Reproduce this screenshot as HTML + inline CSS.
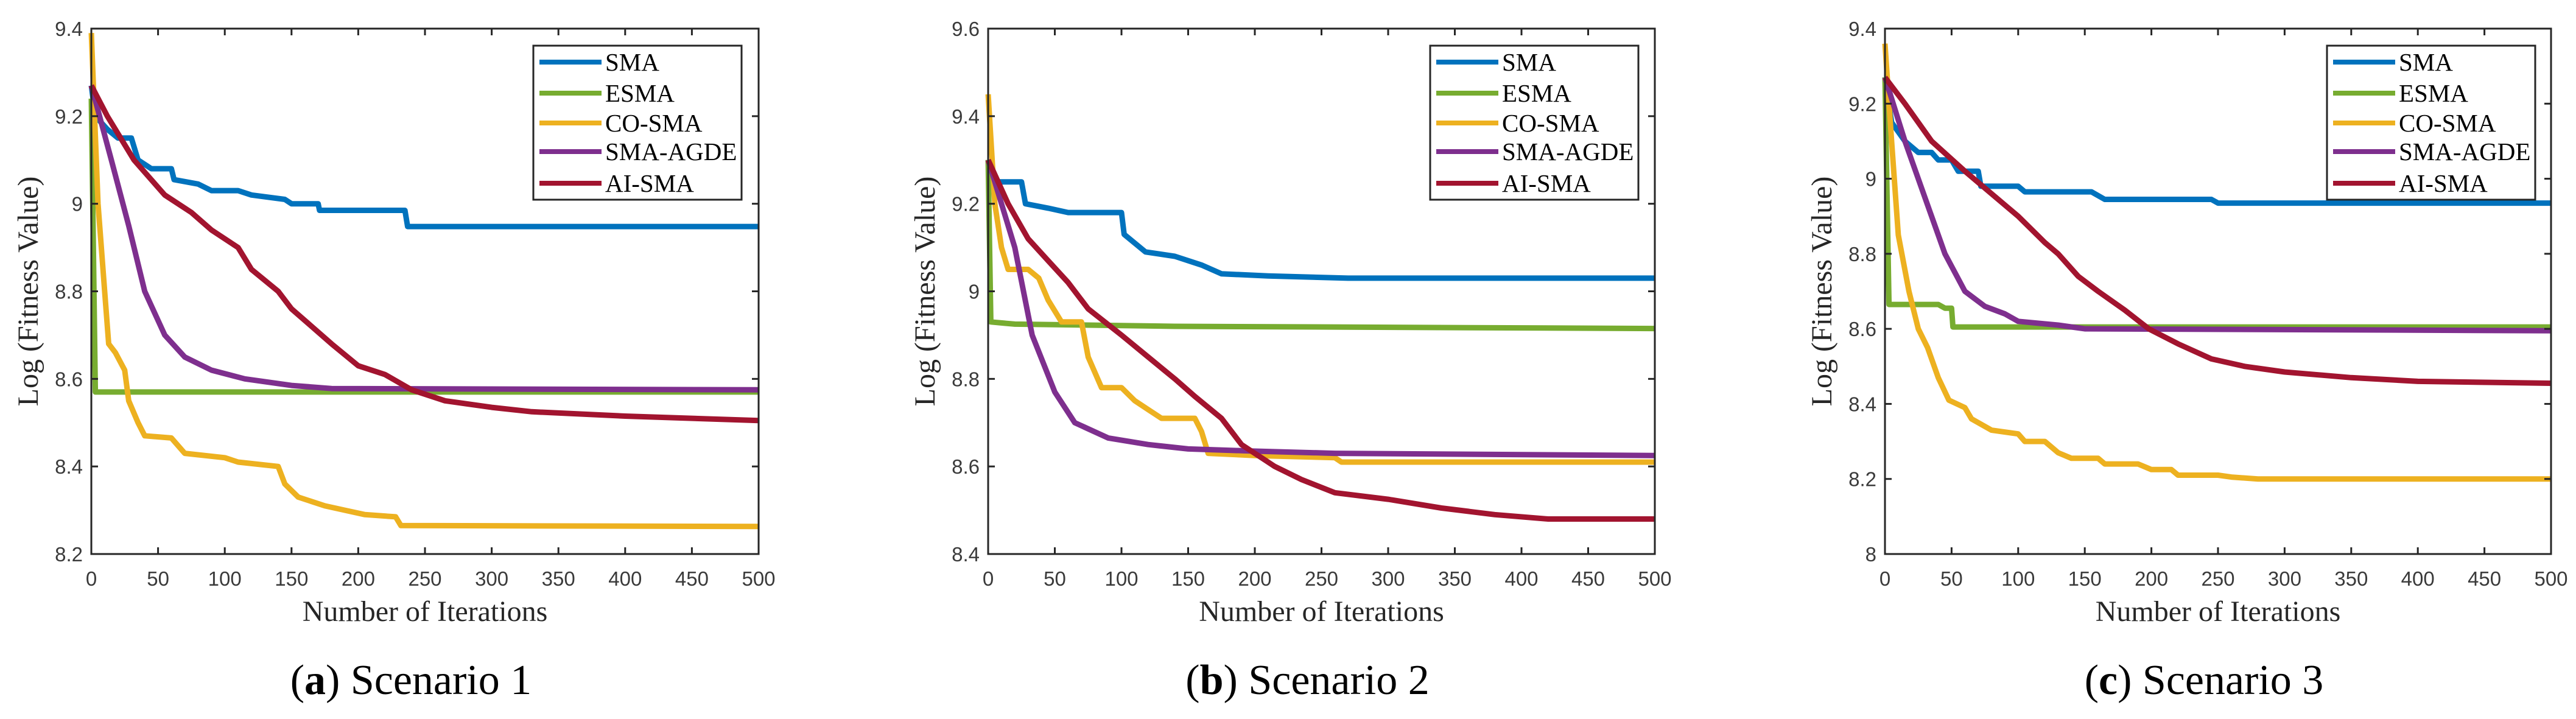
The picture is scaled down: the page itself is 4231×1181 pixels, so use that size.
<!DOCTYPE html>
<html><head><meta charset="utf-8"><style>
html,body{margin:0;padding:0;background:#fff;}
svg{display:block;}
.tick{font-family:"Liberation Sans",sans-serif;font-size:33px;fill:#3a3a3a;}
.title{font-family:"Liberation Serif",serif;font-size:48px;fill:#262626;}
.leg{font-family:"Liberation Serif",serif;font-size:41px;fill:#000;}
.cap{font-family:"Liberation Serif",serif;font-size:70px;fill:#000;}
</style></head><body>
<svg id="fig" width="4231" height="1181" viewBox="0 0 4231 1181" xmlns="http://www.w3.org/2000/svg"></svg>
<script>
const seriesNames = ["SMA","ESMA","CO-SMA","SMA-AGDE","AI-SMA"];
const seriesColors = ["#0072BD","#77AC30","#EDB120","#7E2F8E","#A2142F"];
const xTicks = [0,50,100,150,200,250,300,350,400,450,500];
const captions = ["a","b","c"];
const yTicksA = [8.2,8.4,8.6,8.8,9,9.2,9.4];
const yTicksB = [8.4,8.6,8.8,9,9.2,9.4,9.6];
const yTicksC = [8,8.2,8.4,8.6,8.8,9,9.2,9.4];
// Scenario 1 [iteration, value] pairs
const a_SMA = [[0,9.27],[3,9.2],[12,9.17],[20,9.15],[30,9.15],[35,9.1],[45,9.08],[60,9.08],[62,9.055],[80,9.045],[90,9.03],[110,9.03],[120,9.02],[145,9.01],[150,9.0],[170,9.0],[171,8.985],[235,8.985],[237,8.948],[500,8.948]];
const a_ESMA = [[0,9.24],[3,8.57],[500,8.57]];
const a_CO = [[0,9.39],[5,9.0],[10,8.8],[13,8.68],[18,8.66],[25,8.62],[28,8.55],[35,8.5],[40,8.47],[60,8.465],[70,8.43],[100,8.42],[110,8.41],[140,8.4],[145,8.36],[155,8.33],[175,8.31],[190,8.3],[205,8.29],[228,8.285],[232,8.265],[500,8.263]];
const a_AGDE = [[0,9.27],[15,9.1],[28,8.95],[40,8.8],[55,8.7],[70,8.65],[90,8.62],[115,8.6],[150,8.585],[180,8.578],[500,8.575]];
const a_AI = [[0,9.27],[12,9.2],[32,9.1],[55,9.02],[75,8.98],[90,8.94],[110,8.9],[120,8.85],[140,8.8],[150,8.76],[165,8.72],[180,8.68],[200,8.63],[220,8.61],[240,8.575],[265,8.55],[300,8.535],[330,8.525],[400,8.515],[500,8.505]];
// Scenario 2
const b_SMA = [[0,9.3],[5,9.25],[25,9.25],[28,9.2],[45,9.19],[60,9.18],[100,9.18],[102,9.13],[118,9.09],[140,9.08],[160,9.06],[175,9.04],[210,9.035],[270,9.03],[500,9.03]];
const b_ESMA = [[0,9.3],[2,8.93],[20,8.925],[140,8.92],[500,8.915]];
const b_CO = [[0,9.45],[5,9.2],[10,9.1],[15,9.05],[30,9.05],[38,9.03],[45,8.98],[55,8.93],[70,8.93],[75,8.85],[85,8.78],[100,8.78],[110,8.75],[120,8.73],[130,8.71],[155,8.71],[160,8.68],[165,8.63],[200,8.625],[260,8.62],[265,8.61],[500,8.61]];
const b_AGDE = [[0,9.3],[20,9.1],[33,8.9],[50,8.77],[65,8.7],[90,8.665],[120,8.65],[150,8.64],[200,8.635],[260,8.63],[500,8.625]];
const b_AI = [[0,9.3],[15,9.2],[30,9.12],[45,9.07],[60,9.02],[75,8.96],[100,8.9],[120,8.85],[140,8.8],[155,8.76],[175,8.71],[190,8.65],[215,8.6],[235,8.57],[260,8.54],[300,8.525],[340,8.505],[380,8.49],[420,8.48],[500,8.48]];
// Scenario 3
const c_SMA = [[0,9.27],[5,9.15],[15,9.1],[25,9.07],[35,9.07],[40,9.05],[50,9.05],[55,9.02],[70,9.02],[72,8.98],[100,8.98],[105,8.965],[155,8.965],[165,8.945],[245,8.945],[250,8.935],[500,8.935]];
const c_ESMA = [[0,9.27],[3,8.665],[40,8.665],[45,8.655],[50,8.655],[51,8.605],[500,8.605]];
const c_CO = [[0,9.36],[5,9.1],[10,8.85],[18,8.7],[25,8.6],[32,8.55],[40,8.47],[48,8.41],[60,8.39],[65,8.36],[80,8.33],[100,8.32],[105,8.3],[120,8.3],[130,8.27],[140,8.255],[160,8.255],[165,8.24],[190,8.24],[200,8.225],[215,8.225],[220,8.21],[250,8.21],[260,8.205],[280,8.2],[500,8.2]];
const c_AGDE = [[0,9.27],[15,9.1],[30,8.95],[45,8.8],[60,8.7],[75,8.66],[90,8.64],[100,8.62],[130,8.61],[150,8.6],[500,8.595]];
const c_AI = [[0,9.27],[15,9.2],[35,9.1],[60,9.02],[80,8.96],[100,8.9],[120,8.83],[130,8.8],[145,8.74],[160,8.7],[180,8.65],[198,8.6],[220,8.56],[245,8.52],[270,8.5],[300,8.485],[350,8.47],[400,8.46],[500,8.455]];

const NS="http://www.w3.org/2000/svg";
const svg=document.getElementById('fig');
function mk(tag,attrs,parent){const e=document.createElementNS(NS,tag);for(const k in attrs)e.setAttribute(k,attrs[k]);(parent||svg).appendChild(e);return e;}

const panels=[
 {x0:150,x1:1246,ymin:8.2,ymax:9.4,yt:yTicksA,data:[a_SMA,a_ESMA,a_CO,a_AGDE,a_AI],leg:876,cap:"Scenario 1"},
 {x0:1623,x1:2718,ymin:8.4,ymax:9.6,yt:yTicksB,data:[b_SMA,b_ESMA,b_CO,b_AGDE,b_AI],leg:2349,cap:"Scenario 2"},
 {x0:3096,x1:4190,ymin:8.0,ymax:9.4,yt:yTicksC,data:[c_SMA,c_ESMA,c_CO,c_AGDE,c_AI],leg:3822,cap:"Scenario 3"}
];
const Y0=47,Y1=910;
panels.forEach((p,pi)=>{
 const g=mk('g',{});
 
 
 const sx=v=>p.x0+(v-0)/(500-0)*(p.x1-p.x0);
 const sy=v=>Y1-(v-p.ymin)/(p.ymax-p.ymin)*(Y1-Y0);
 p.data.forEach((d,si)=>{
  const pl=mk('polyline',{points:d.map(q=>sx(q[0]).toFixed(1)+','+sy(q[1]).toFixed(1)).join(' '),fill:'none',stroke:seriesColors[si],'stroke-width':9,'stroke-linejoin':'round'},g);
  
  
 });
 const box=mk('rect',{x:p.x0,y:Y0,width:p.x1-p.x0,height:Y1-Y0,fill:'none',stroke:'#262626','stroke-width':3},g);
 
 
 xTicks.forEach(t=>{
  const x=sx(t);
  mk('line',{x1:x,y1:Y1,x2:x,y2:Y1-11,stroke:'#262626','stroke-width':3},g);
  mk('line',{x1:x,y1:Y0,x2:x,y2:Y0+11,stroke:'#262626','stroke-width':3},g);
  const tx=mk('text',{x:x,y:Y1+52,'text-anchor':'middle',class:'tick'},g);
  tx.textContent=t;
  
  
 });
 p.yt.forEach(t=>{
  const y=sy(t);
  mk('line',{x1:p.x0,y1:y,x2:p.x0+11,y2:y,stroke:'#262626','stroke-width':3},g);
  mk('line',{x1:p.x1,y1:y,x2:p.x1-11,y2:y,stroke:'#262626','stroke-width':3},g);
  const tx=mk('text',{x:p.x0-14,y:y+12,'text-anchor':'end',class:'tick'},g);
  tx.textContent=t;
  
  
 });
 const xt=mk('text',{x:(p.x0+p.x1)/2,y:1020,'text-anchor':'middle',class:'title'},g);
 xt.textContent='Number of Iterations';
 
 
 const yx=p.x0-88, yc=(Y0+Y1)/2;
 const yt=mk('text',{x:yx,y:yc,'text-anchor':'middle',class:'title',transform:'rotate(-90 '+yx+' '+yc+')'},g);
 yt.textContent='Log (Fitness Value)';
 
 
 const lg=mk('g',{},g);
 
 
 mk('rect',{x:p.leg,y:75,width:342,height:253,fill:'#fff',stroke:'#262626','stroke-width':3},lg);
 const rows=[102,153,202,249,301];
 seriesNames.forEach((n,si)=>{
  const e=mk('g',{},lg);
  
  
  mk('line',{x1:p.leg+10,y1:rows[si],x2:p.leg+112,y2:rows[si],stroke:seriesColors[si],'stroke-width':8},e);
  const t=mk('text',{x:p.leg+118,y:rows[si]+14,class:'leg'},e);
  t.textContent=n;
 });
 const c=mk('text',{x:(p.x0+p.x1)/2-23,y:1140,'text-anchor':'middle',class:'cap'},g);
 
 
 const t1=mk('tspan',{},c);t1.textContent='(';
 const t2=mk('tspan',{'font-weight':'bold'},c);t2.textContent=captions[pi];
 const t3=mk('tspan',{},c);t3.textContent=') '+p.cap;
});
</script>
</body></html>
